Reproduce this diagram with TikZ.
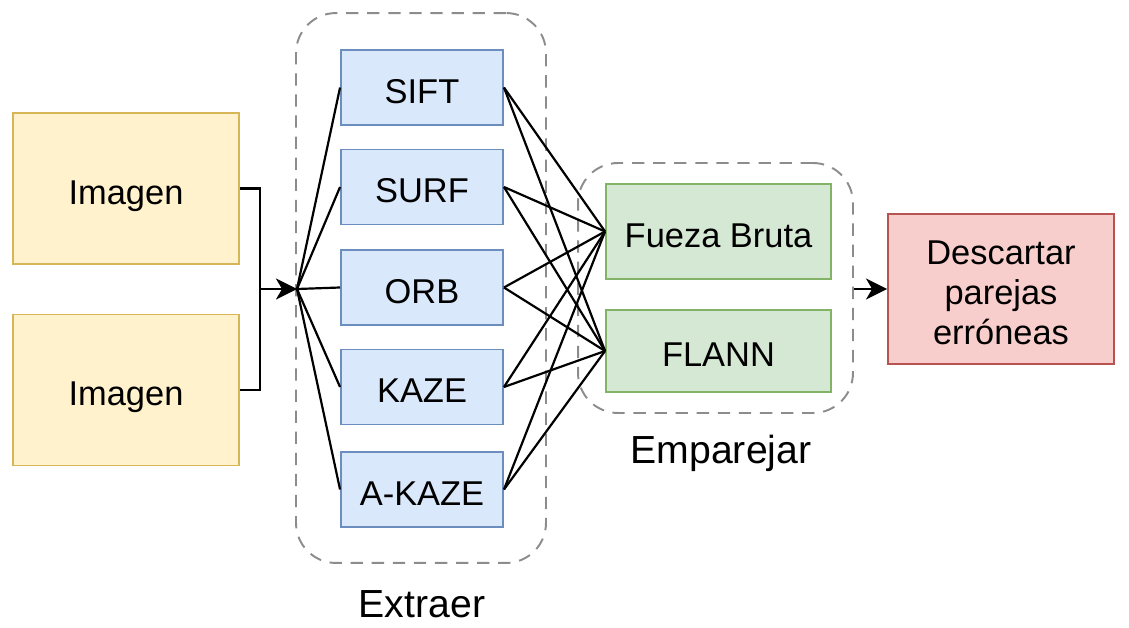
\documentclass[tikz,border=0pt]{standalone}
\usepackage{fontspec}
\setmainfont{Liberation Sans}
\usetikzlibrary{arrows.meta}
\definecolor{yfill}{HTML}{FFF2CC}\definecolor{ydraw}{HTML}{D6B656}
\definecolor{bfill}{HTML}{DAE8FC}\definecolor{bdraw}{HTML}{6C8EBF}
\definecolor{gfill}{HTML}{D5E8D4}\definecolor{gdraw}{HTML}{82B366}
\definecolor{rfill}{HTML}{F8CECC}\definecolor{rdraw}{HTML}{B85450}
\definecolor{dgray}{HTML}{8C8C8C}
\tikzset{
  base/.style={draw, line width=1.1pt, inner sep=2pt, align=center, text height=18pt, text depth=0pt, font=\fontsize{19.6}{22.7}\selectfont},
  imgbox/.style={base, fill=yfill, draw=ydraw, minimum width=4.52cm, minimum height=3.02cm},
  featbox/.style={base, fill=bfill, draw=bdraw, minimum width=3.24cm, minimum height=1.5cm},
  matchbox/.style={base, fill=gfill, draw=gdraw, minimum width=4.5cm},
  outbox/.style={base, text height=63.4pt, fill=rfill, draw=rdraw, minimum width=4.52cm, minimum height=3cm},
  groupbox/.style={draw=dgray, dashed, dash pattern=on 7pt off 5pt, line width=1.1pt, rounded corners=0.8cm, inner sep=0pt},
  grouplabel/.style={inner sep=0pt, font=\fontsize{22.3}{26}\selectfont},
  conn/.style={line width=1.25pt, black},
  arr/.style={conn, -{Stealth[length=12pt, width=12pt, inset=3.5pt]}}
}
\begin{document}
\begin{tikzpicture}[x=0.02cm, y=-0.02cm]
\useasboundingbox (0,0) rectangle (1129,628);
% groups
\node[groupbox, minimum width=5cm, minimum height=11cm] (ext) at (421,288) {};
\node[groupbox, minimum width=5.5cm, minimum height=5cm] (emp) at (715.5,288) {};
\node[grouplabel] (extl) at (422,604) {Extraer};
\node[grouplabel] (empl) at (721,453) {Emparejar};
% inputs
\node[imgbox] (img1) at (126,188.5) {Imagen};
\node[imgbox] (img2) at (126,390) {Imagen};
% features
\node[featbox] (sift) at (422,87.5) {SIFT};
\node[featbox] (surf) at (422,187) {SURF};
\node[featbox] (orb) at (422,287.5) {ORB};
\node[featbox] (kaze) at (422,387) {KAZE};
\node[featbox] (akaze) at (422,489.5) {A-KAZE};
% matchers
\node[matchbox, minimum height=1.9cm] (fb) at (718.5,231.5) {Fueza Bruta};
\node[matchbox, minimum height=1.64cm] (flann) at (718.5,351) {FLANN};
% output
\node[outbox] (out) at (1001,289) {Descartar\\parejas\\erróneas};
% connectors
\coordinate (bus) at (260,289);
\coordinate (j) at (297,289);
\draw[conn] (img1.east) -| (bus);
\draw[conn] (img2.east) -| (bus);
\draw[arr] (bus) -- (j);
\foreach \f in {sift,surf,orb,kaze,akaze}{
  \draw[conn] (j) -- (\f.west);
  \draw[conn] (\f.east) -- (fb.west);
  \draw[conn] (\f.east) -- (flann.west);
}
\draw[arr] (emp.east |- out.west) -- (out.west);
\end{tikzpicture}
\end{document}
